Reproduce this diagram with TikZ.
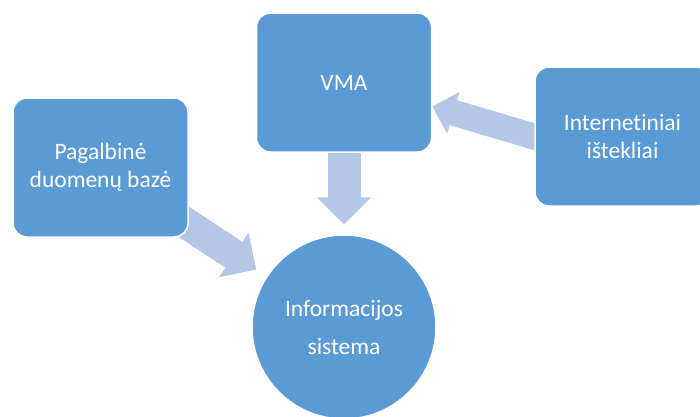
\documentclass[tikz,border=0pt]{standalone}
\usepackage{fontspec}
\setmainfont{Carlito}[Ligatures=NoCommon]
\usetikzlibrary{arrows.meta,calc,backgrounds}

\definecolor{boxblau}{HTML}{5B9BD5}
\definecolor{pfeilblau}{HTML}{B4C7E7}

\tikzset{
	kasten/.style={rectangle, rounded corners=14pt, fill=boxblau, draw=white,
	line width=1.5pt, minimum width=175pt, minimum height=139pt, inner sep=0pt,
	align=center, text=white, font=\fontsize{23.5}{28}\selectfont},
	kreis/.style={circle, fill=boxblau, draw=white, line width=1.5pt,
	minimum size=184pt, inner sep=0pt, align=center, text=white,
	font=\fontsize{23.5}{38}\selectfont},
	pfeil/.style={draw=pfeilblau, line cap=butt}
}

\begin{document}
\begin{tikzpicture}[x=1pt, y=-1pt]
	\useasboundingbox (0, 0) rectangle (700, 416);
	\clip (0, 0) rectangle (700, 416);
	% Kaesten
	\node[kasten] (db) at (100.5, 167.5) {Pagalbinė\\duomenų bazė};
	\node[kasten] (vma) at (344, 82.5) {VMA};
	\node[kasten] (web) at (622.5, 136.5) {Internetiniai\\ištekliai};
	\node[kreis] (is) at (344, 327) {Informacijos\\sistema};
	% Pfeile hinter den Kaesten
	\begin{scope}[on background layer]
		\draw[pfeil, line width=31pt, -{Triangle[length=27pt, width=52pt]},
		shorten <=-20pt, shorten >=12pt] (db) -- (is);
		\draw[pfeil, line width=33pt, -{Triangle[length=27pt, width=53pt]},
		shorten <=-5pt, shorten >=10pt] (vma) -- (is);
		\draw[pfeil, line width=26pt, -{Triangle[length=22pt, width=42pt]}]
		($(web.west) + (20, 6)$) -- ($(vma.east) + (0, 24)$);
	\end{scope}
\end{tikzpicture}
\end{document}
